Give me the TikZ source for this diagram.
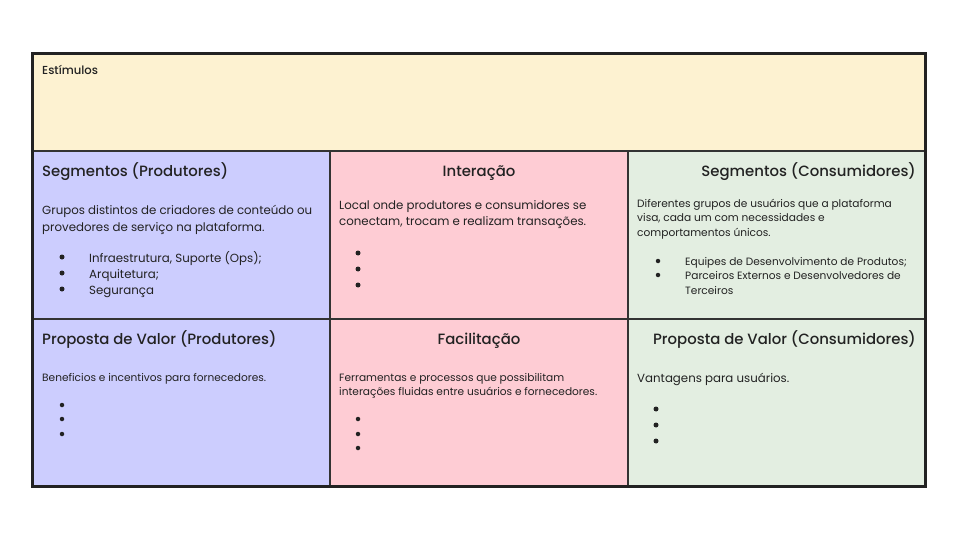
\documentclass[tikz,border=0pt]{standalone}
\usepackage{fontspec}
\setmainfont{Poppins}
\newfontfamily\titlefont{Poppins Medium}
\definecolor{cyellow}{HTML}{FDF2D1}
\definecolor{cblue}{HTML}{CCCDFE}
\definecolor{cpink}{HTML}{FECCD4}
\definecolor{cgreen}{HTML}{E3EEE1}
\definecolor{cline}{HTML}{333333}
\definecolor{ctext}{HTML}{222222}
\begin{document}
\begin{tikzpicture}[x=1pt,y=-1pt,
  cell/.style={draw=cline,line width=2pt},
  title/.style={inner sep=0pt,anchor=base west,text=ctext,font=\titlefont\fontsize{14.9}{18}\selectfont},
  body/.style={inner sep=0pt,anchor=base west,text=ctext,font=\fontsize{11.8}{14}\selectfont},
  small/.style={inner sep=0pt,anchor=base west,text=ctext,font=\fontsize{10.6}{12}\selectfont},
  dot/.style={circle,fill=ctext,inner sep=0pt,minimum size=5pt}]
\useasboundingbox (0,0) rectangle (960,540);
\fill[white] (0,0) rectangle (960,540);
% cells
\filldraw[cell,fill=cyellow] (32,54) rectangle (925,151);
\filldraw[cell,fill=cblue] (32,151) rectangle (330,319);
\filldraw[cell,fill=cpink] (330,151) rectangle (628,319);
\filldraw[cell,fill=cgreen] (628,151) rectangle (925,319);
\filldraw[cell,fill=cblue] (32,319) rectangle (330,486);
\filldraw[cell,fill=cpink] (330,319) rectangle (628,486);
\filldraw[cell,fill=cgreen] (628,319) rectangle (925,486);
\draw[draw=ctext,line width=3pt] (32,54) rectangle (925,486);
% Estimulos
\node[small,font=\titlefont\fontsize{11.6}{12}\selectfont] (est) at (42,75) {Estímulos};
% Row 2 col 1
\node[title] (t1) at (42,176) {Segmentos (Produtores)};
\node[body] (b1a) at (42,214) {Grupos distintos de criadores de conteúdo ou};
\node[body] (b1b) at (42,231) {provedores de serviço na plataforma.};
\node[dot] (d1a) at (62,257) {};
\node[dot] (d1b) at (62,273) {};
\node[dot] (d1c) at (62,289) {};
\node[body] (l1a) at (89,262) {Infraestrutura, Suporte (Ops);};
\node[body] (l1b) at (89,278) {Arquitetura;};
\node[body] (l1c) at (89,294) {Segurança};
% Row 2 col 2
\node[title,anchor=base] (t2) at (479,176) {Interação};
\node[body] (b2a) at (339,209) {Local onde produtores e consumidores se};
\node[body] (b2b) at (339,225) {conectam, trocam e realizam transações.};
\node[dot] (d2a) at (358,253) {};
\node[dot] (d2b) at (358,269) {};
\node[dot] (d2c) at (358,285) {};
% Row 2 col 3
\node[title,anchor=base east] (t3) at (916,176) {Segmentos (Consumidores)};
\node[small] (b3a) at (637,207) {Diferentes grupos de usuários que a plataforma};
\node[small] (b3b) at (637,221) {visa, cada um com necessidades e};
\node[small] (b3c) at (637,236) {comportamentos únicos.};
\node[dot,minimum size=4.5pt] (d3a) at (658,261) {};
\node[dot,minimum size=4.5pt] (d3b) at (658,275) {};
\node[small] (l3a) at (685,265) {Equipes de Desenvolvimento de Produtos;};
\node[small] (l3b) at (685,279) {Parceiros Externos e Desenvolvedores de};
\node[small] (l3c) at (685,294) {Terceiros};
% Row 3 col 1
\node[title] (t4) at (42,344) {Proposta de Valor (Produtores)};
\node[small] (b4a) at (42,381) {Beneficios e incentivos para fornecedores.};
\node[dot,minimum size=4.5pt] (d4a) at (62,405) {};
\node[dot,minimum size=4.5pt] (d4b) at (62,419) {};
\node[dot,minimum size=4.5pt] (d4c) at (62,434) {};
% Row 3 col 2
\node[title,anchor=base] (t5) at (479,344) {Facilitação};
\node[small] (b5a) at (339,381) {Ferramentas e processos que possibilitam};
\node[small] (b5b) at (339,395) {interações fluidas entre usuários e fornecedores.};
\node[dot,minimum size=4.5pt] (d5a) at (358,419) {};
\node[dot,minimum size=4.5pt] (d5b) at (358,434) {};
\node[dot,minimum size=4.5pt] (d5c) at (358,448) {};
% Row 3 col 3
\node[title,anchor=base east] (t6) at (916,344) {Proposta de Valor (Consumidores)};
\node[body] (b6a) at (637,382) {Vantagens para usuários.};
\node[dot] (d6a) at (656,409) {};
\node[dot] (d6b) at (656,425) {};
\node[dot] (d6c) at (656,441) {};
\end{tikzpicture}
\end{document}
